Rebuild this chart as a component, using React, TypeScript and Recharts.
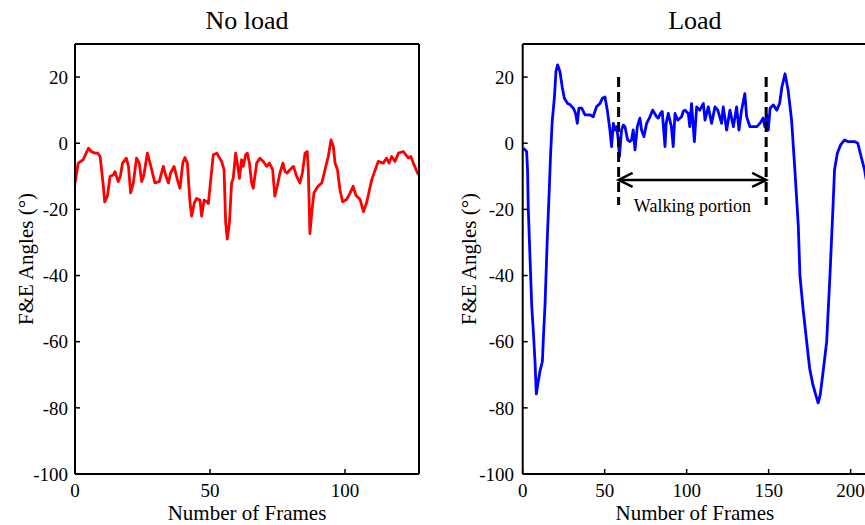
import React from "react";
import { LineChart, Line, XAxis, YAxis, ReferenceLine, Label } from "recharts";

const FONT = '"Liberation Serif", "Times New Roman", Times, serif';

const panelTitles = ["No load", "Load"];
const xAxisTitle = "Number of Frames";
const yAxisTitle = "F&E Angles (°)";
const annotationText = "Walking portion";

const yTicks = [-100, -80, -60, -40, -20, 0, 20];
const yDomain = [-100, 30];
const noLoadXTicks = [0, 50, 100];
const noLoadXDomain = [0, 127.4];
const loadXTicks = [0, 50, 100, 150, 200];
const loadXDomain = [0, 210];

const noLoadFrames = [
  0, 1.2, 3, 5, 6, 7.4, 8.4, 9.3, 10.5, 11, 12, 13, 14.2, 14.8, 16, 16.8, 17.6, 19, 19.8, 20.6,
  21.6, 22.8, 23.8, 24.7, 25.5, 26.8, 27.8, 29.6, 31.2, 32.7, 33.7, 34.6, 35.4, 36.7, 37.9, 38.9,
  39.9, 40.7, 41.6, 42.6, 43.2, 44.2, 45, 46.3, 46.9, 47.8, 48.8, 49.4, 51.2, 52.5, 54.3, 55.2,
  55.8, 56.4, 57.2, 58, 58.6, 59.5, 60.1, 60.9, 61.7, 62.3, 63.2, 63.8, 64.6, 65.4, 66, 67.3,
  68.5, 69.8, 71, 72, 73.2, 74, 74.9, 75.9, 77, 77.8, 78.6, 79.6, 80.9, 82.1, 83.3, 84.2, 85.2,
  86, 86.4, 87, 87.8, 88.5, 90, 91.4, 92.6, 93.8, 94.8, 95.7, 96.3, 97.2, 98.1, 99.1, 100.6,
  101.9, 103, 104, 105.6, 106.8, 108, 109.9, 112.3, 114.2, 115.4, 116.3, 117.3, 118.5, 119.8,
  121.6, 123.5, 124.4, 125.3, 127.2,
];
const noLoadAngles = [
  -12, -6, -5, -1.5, -2.5, -3, -3, -4, -13, -17.7, -16, -10, -9.6, -8.6, -11.6, -10, -6, -4.5, -7, -15,
  -12, -4.5, -6, -11.6, -9.6, -3, -6, -12, -11.6, -7, -10, -12, -9, -7, -11, -13.6,
  -6, -4.3, -6, -18, -22, -18, -16.7, -17.2, -22, -17.2, -17.7, -18.2, -3.5, -3, -5.5, -8,
  -24, -29, -24, -12, -10.6, -3, -6, -10.6, -5, -7, -3.5, -3, -6, -12, -13.6, -6,
  -4.5, -5.6, -7, -6, -8, -16, -13, -9, -6, -8.6, -9, -8, -7, -10, -12, -9, -3,
  -2.5, -8, -27.3, -20, -15, -13, -12, -8, -4, 1, -1, -6, -8, -14, -17.7, -17,
  -15, -13, -15.7, -17, -20.7, -18, -11, -5.5, -6, -4.5, -6, -4, -5.5, -3,
  -2.5, -4.5, -4, -6, -9.6,
];

const loadFrames = [
  0.4, 2.4, 3, 3.4, 4.4, 5.5, 6.5, 7.5, 8.3, 9.5, 10.5, 12, 12.6, 13.6, 15, 16, 17, 18, 19.3, 20.3,
  21.3, 22.7, 24.2, 25.4, 27.4, 29, 30.9, 32.3, 33.3, 34.3, 36, 38, 41, 43, 45, 47.1, 48.6, 50.2,
  51.6, 53.2, 54.2, 55.3, 56.3, 57.3, 58.3, 59, 60.3, 61.4, 62.4, 64, 65.4, 66.4, 67.4, 68.5,
  69.9, 71.5, 72.5, 73.9, 75.6, 76.6, 77.6, 79.3, 80.5, 81.7, 82.7, 84, 85.1, 86.8, 87.5, 88.8,
  90.7, 91.8, 92.9, 94.5, 96.9, 97.9, 99, 101, 101.9, 103, 104.7, 106.1, 108, 110.2, 111.2,
  113.2, 115.2, 117.3, 119, 121.3, 122.3, 124.4, 126.4, 128.5, 130.5, 131.9, 133.5, 135.5,
  136.6, 138.6, 140.6, 142.7, 144.7, 146.7, 147.7, 148.8, 149.8, 150.9, 152.8, 155, 156.7,
  158.1, 160, 161.9, 164, 166, 168.1, 169.1, 171, 173.2, 175, 177, 179, 180.2, 181.5, 183,
  185.4, 187.4, 189.2, 190.2, 191.9, 193.9, 196.3, 198.3, 202.4, 204.4, 206.4, 208.5, 209.5,
];
const loadAngles = [
  -1.5, -2.5, -8.6, -19.7, -33.8, -49, -57, -66, -75.8, -72, -69, -66, -59, -49, -28.8, -16.7, -3.5, 6.6, 13.6, 21.7,
  23.7, 21.7, 16.7, 13.6, 12, 11.6, 10.6, 9, 6, 10.6, 10.6, 8.6, 8.6, 8, 11, 12, 13.6, 14,
  10, 4, -1, 6, 4, 5, 1, -4, 4, 5.5, 5, 1, 0.5, 1, 4, -2,
  5, 7.6, 4, 2, 6, 7, 8, 10, 9, 8, 7.6, 9, 9.6, -1, 6, 9,
  5, -1, 9, 7, 8, 9.6, 10, 9, 5, 12, 0.5, 11, 10, 12, 7,
  11, 6, 11, 10, 6, 11, 4, 10, 5, 11, 4, 10, 15,
  8, 5, 5, 5, 6, 7.6, 5, 8.6, 4, 10.6, 11.6, 10, 12,
  17, 21, 16, 7, -8, -25, -40, -50, -60, -68, -73, -76.5, -78.5, -76, -70,
  -60, -40, -20, -8, -3, -0.5, 1, 0.5, 0.5, 0, -4, -8, -11,
];

const walkingStart = 58.5;
const walkingEnd = 148.5;
const walkingTop = 20;
const walkingBottom = -18.7;
const arrowLevel = -11.1;

const noLoadData = noLoadFrames.map((f, i) => ({ frame: f, angle: noLoadAngles[i] }));
const loadData = loadFrames.map((f, i) => ({ frame: f, angle: loadAngles[i] }));

const tickStyle = { fill: "#000", fontSize: 19, fontFamily: FONT };
const axisLineStyle = { stroke: "#000", strokeWidth: 2 };
const tickLineStyle = { stroke: "#000", strokeWidth: 1.5 };

const makeTitle = (text: string) => (props: any) => {
  const vb = props.viewBox || {};
  const cx = vb.x + vb.width / 2;
  return (
    <text x={cx} y={29} textAnchor="middle" fontFamily={FONT} fontSize={26} fill="#000">
      {text}
    </text>
  );
};

const makeYTitle = (xPos: number) => (props: any) => {
  const vb = props.viewBox || {};
  const cy = vb.y + vb.height / 2;
  return (
    <text
      x={xPos}
      y={cy}
      transform={`rotate(-90, ${xPos}, ${cy})`}
      textAnchor="middle"
      dominantBaseline="central"
      fontFamily={FONT}
      fontSize={21}
      fill="#000"
    >
      {yAxisTitle}
    </text>
  );
};

const XTitle = (props: any) => {
  const vb = props.viewBox || {};
  const cx = vb.x + vb.width / 2;
  return (
    <text x={cx} y={520} textAnchor="middle" fontFamily={FONT} fontSize={21} fill="#000">
      {xAxisTitle}
    </text>
  );
};

const ArrowShape = (props: any) => {
  const { x1, y1, x2, y2 } = props;
  const h = 14;
  const w = 7;
  return (
    <g stroke="#000" strokeWidth={2.5} fill="none">
      <line x1={x1} y1={y1} x2={x2} y2={y2} />
      <polyline points={`${x1 + h},${y1 - w} ${x1},${y1} ${x1 + h},${y1 + w}`} />
      <polyline points={`${x2 - h},${y2 - w} ${x2},${y2} ${x2 - h},${y2 + w}`} />
    </g>
  );
};

const AnnotationLabel = (props: any) => {
  const vb = props.viewBox || {};
  const cx = vb.x + vb.width / 2;
  return (
    <text x={cx} y={vb.y + 32} textAnchor="middle" fontFamily={FONT} fontSize={18} fill="#000">
      {annotationText}
    </text>
  );
};

export default function App() {
  return (
    <div
      style={{
        position: "absolute",
        left: 0,
        top: 0,
        width: 865,
        height: 525,
        overflow: "hidden",
        background: "#fff",
        fontFamily: FONT,
      }}
    >
      <div style={{ position: "absolute", left: 0, top: 0 }}>
        <LineChart
          width={440}
          height={525}
          data={noLoadData}
          margin={{ top: 43, right: 20, bottom: 0, left: 25 }}
          style={{ fontFamily: FONT }}
        >
          <XAxis
            dataKey="frame"
            type="number"
            domain={noLoadXDomain}
            ticks={noLoadXTicks}
            allowDataOverflow
            height={51}
            tickSize={-5}
            tickMargin={14.5}
            tick={tickStyle}
            axisLine={axisLineStyle}
            tickLine={tickLineStyle}
          >
            <Label content={XTitle} />
            <Label content={makeTitle(panelTitles[0])} />
          </XAxis>
          <XAxis
            xAxisId="top"
            dataKey="frame"
            orientation="top"
            type="number"
            domain={noLoadXDomain}
            ticks={noLoadXTicks}
            allowDataOverflow
            height={1}
            tickSize={-5}
            tick={false}
            axisLine={axisLineStyle}
            tickLine={tickLineStyle}
          />
          <YAxis
            type="number"
            domain={yDomain}
            ticks={yTicks}
            allowDataOverflow
            width={50}
            tickSize={-5}
            tickMargin={12}
            tick={tickStyle}
            axisLine={axisLineStyle}
            tickLine={tickLineStyle}
          >
            <Label content={makeYTitle(25.5)} />
          </YAxis>
          <YAxis
            yAxisId="right"
            orientation="right"
            type="number"
            domain={yDomain}
            ticks={yTicks}
            allowDataOverflow
            width={1}
            tickSize={-5}
            tick={false}
            axisLine={axisLineStyle}
            tickLine={tickLineStyle}
          />
          <Line
            xAxisId="top"
            yAxisId="right"
            dataKey="angle"
            stroke="none"
            dot={false}
            activeDot={false}
            legendType="none"
            isAnimationActive={false}
          />
          <Line
            dataKey="angle"
            type="linear"
            stroke="#ff0000"
            strokeWidth={2.8}
            strokeLinejoin="round"
            dot={false}
            isAnimationActive={false}
          />
        </LineChart>
      </div>
      <div style={{ position: "absolute", left: 440, top: 0 }}>
        <LineChart
          width={440}
          height={525}
          data={loadData}
          margin={{ top: 43, right: 12, bottom: 0, left: 32.7 }}
          style={{ fontFamily: FONT }}
        >
          <XAxis
            dataKey="frame"
            type="number"
            domain={loadXDomain}
            ticks={loadXTicks}
            allowDataOverflow
            height={51}
            tickSize={-5}
            tickMargin={14.5}
            tick={tickStyle}
            axisLine={axisLineStyle}
            tickLine={tickLineStyle}
          >
            <Label content={XTitle} />
            <Label content={makeTitle(panelTitles[1])} />
          </XAxis>
          <XAxis
            xAxisId="top"
            dataKey="frame"
            orientation="top"
            type="number"
            domain={loadXDomain}
            ticks={loadXTicks}
            allowDataOverflow
            height={1}
            tickSize={-5}
            tick={false}
            axisLine={axisLineStyle}
            tickLine={tickLineStyle}
          />
          <YAxis
            type="number"
            domain={yDomain}
            ticks={yTicks}
            allowDataOverflow
            width={50}
            tickSize={-5}
            tickMargin={13.7}
            tick={tickStyle}
            axisLine={axisLineStyle}
            tickLine={tickLineStyle}
          >
            <Label content={makeYTitle(29)} />
          </YAxis>
          <YAxis
            yAxisId="right"
            orientation="right"
            type="number"
            domain={yDomain}
            ticks={yTicks}
            allowDataOverflow
            width={1}
            tickSize={-5}
            tick={false}
            axisLine={axisLineStyle}
            tickLine={tickLineStyle}
          />
          <Line
            xAxisId="top"
            yAxisId="right"
            dataKey="angle"
            stroke="none"
            dot={false}
            activeDot={false}
            legendType="none"
            isAnimationActive={false}
          />
          <Line
            dataKey="angle"
            type="linear"
            stroke="#0000ff"
            strokeWidth={2.8}
            strokeLinejoin="round"
            dot={false}
            isAnimationActive={false}
          />
          <ReferenceLine
            segment={[
              { x: walkingStart, y: walkingTop },
              { x: walkingStart, y: walkingBottom },
            ]}
            stroke="#000"
            strokeWidth={3}
            strokeDasharray="10 5"
          />
          <ReferenceLine
            segment={[
              { x: walkingEnd, y: walkingTop },
              { x: walkingEnd, y: walkingBottom },
            ]}
            stroke="#000"
            strokeWidth={3}
            strokeDasharray="10 5"
          />
          <ReferenceLine
            segment={[
              { x: walkingStart, y: arrowLevel },
              { x: walkingEnd, y: arrowLevel },
            ]}
            stroke="#000"
            shape={ArrowShape}
          >
            <Label content={AnnotationLabel} />
          </ReferenceLine>
        </LineChart>
      </div>
    </div>
  );
}
